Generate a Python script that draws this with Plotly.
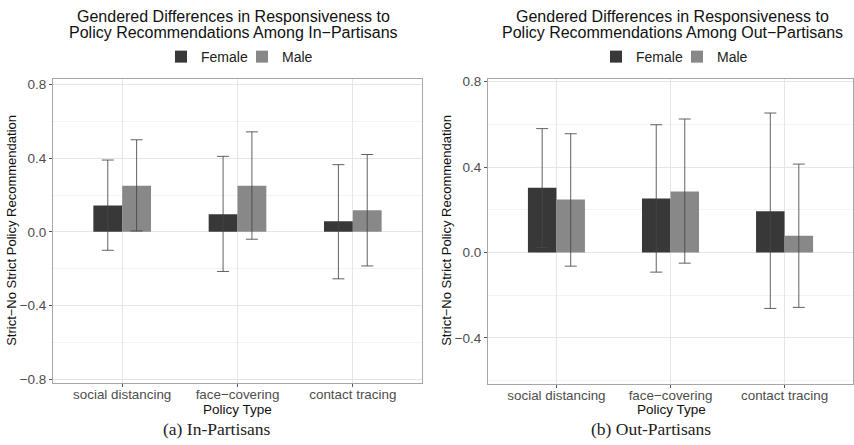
import plotly.graph_objects as go

categories = ["social distancing", "face\u2212covering", "contact tracing"]
genders = ["Female", "Male"]

in_female = [0.143, 0.095, 0.058]
in_female_hi = [0.39, 0.41, 0.365]
in_female_lo = [-0.10, -0.215, -0.255]
in_male = [0.25, 0.25, 0.117]
in_male_hi = [0.50, 0.543, 0.42]
in_male_lo = [0.005, -0.04, -0.185]

out_female = [0.303, 0.253, 0.193]
out_female_hi = [0.58, 0.598, 0.653]
out_female_lo = [0.023, -0.092, -0.262]
out_male = [0.248, 0.285, 0.078]
out_male_hi = [0.556, 0.625, 0.414]
out_male_lo = [-0.064, -0.05, -0.257]

y_ticks_left = [-0.8, -0.4, 0.0, 0.4, 0.8]
y_ticks_right = [-0.4, 0.0, 0.4, 0.8]

titles = [
    ("Gendered Differences in Responsiveness to", "Policy Recommendations Among In\u2212Partisans"),
    ("Gendered Differences in Responsiveness to", "Policy Recommendations Among Out\u2212Partisans"),
]
captions = ["(a) In-Partisans", "(b) Out-Partisans"]
y_title = "Strict\u2212No Strict Policy Recommendation"
x_title = "Policy Type"

colors = {"Female": "#383838", "Male": "#888888"}
err_color = "rgba(70,70,70,0.85)"
W, H = 854, 445


def err(vals, hi, lo):
    return dict(type="data", symmetric=False,
                array=[h - v for v, h in zip(vals, hi)],
                arrayminus=[v - l for v, l in zip(vals, lo)],
                color=err_color, thickness=1, width=6)


fig = go.Figure()
panels = [
    ("x", "y", "legend", [(in_female, in_female_hi, in_female_lo), (in_male, in_male_hi, in_male_lo)]),
    ("x2", "y2", "legend2", [(out_female, out_female_hi, out_female_lo), (out_male, out_male_hi, out_male_lo)]),
]
for xa, ya, lg, series in panels:
    for g, (vals, hi, lo) in zip(genders, series):
        fig.add_trace(go.Bar(
            x=categories, y=vals, name=g, xaxis=xa, yaxis=ya, legend=lg,
            offsetgroup=g, marker=dict(color=colors[g], line=dict(width=0)),
            error_y=err(vals, hi, lo), showlegend=True,
        ))

axis_common = dict(
    showline=True, mirror=True, linecolor="#a6a6a6", linewidth=1,
    ticks="outside", ticklen=3, tickcolor="#555555",
    tickfont=dict(family="Liberation Sans", size=13.5, color="#4d4d4d"),
    showgrid=True, gridcolor="#e6e6e6", gridwidth=1, zeroline=False,
)
x_common = dict(axis_common, tickfont=dict(family="Liberation Sans", size=13.4, color="#4d4d4d"),
                ticklabelstandoff=-4)

tick_txt = lambda vals: [("\u2212" if v < 0 else "") + f"{abs(v):.1f}" for v in vals]

legend_common = dict(orientation="h", xanchor="center", yanchor="middle", y=(H - 54) / H,
                     font=dict(size=14, color="#222222"), itemwidth=30,
                     entrywidth=36, entrywidthmode="pixels", bgcolor="rgba(0,0,0,0)")

fig.update_layout(
    width=W, height=H, margin=dict(l=0, r=0, t=0, b=0),
    paper_bgcolor="white", plot_bgcolor="white",
    barmode="group", bargap=0.5, bargroupgap=0,
    font=dict(family="Liberation Sans", color="#222222"),
    xaxis=dict(domain=[53 / W, 422 / W], anchor="y", range=[-0.6, 2.6], **x_common),
    yaxis=dict(domain=[(H - 386) / H, (H - 76) / H], anchor="x", range=[-0.821, 0.832],
               tickvals=y_ticks_left, ticktext=tick_txt(y_ticks_left),
               minor=dict(showgrid=True, gridcolor="#f3f3f3", dtick=0.2, tick0=0.2),
               **axis_common),
    xaxis2=dict(domain=[488 / W, 853 / W], anchor="y2", range=[-0.6, 2.6], **x_common),
    yaxis2=dict(domain=[(H - 387) / H, (H - 76) / H], anchor="x2", range=[-0.616, 0.814],
                tickvals=y_ticks_right, ticktext=tick_txt(y_ticks_right),
                minor=dict(showgrid=True, gridcolor="#f3f3f3", dtick=0.2, tick0=0.2),
                **axis_common),
    legend=dict(legend_common, x=242 / W),
    legend2=dict(legend_common, x=677 / W),
)

ann = []
for cx, (l1, l2) in zip([233, 672], titles):
    ann.append(dict(text=l1, x=cx / W, y=(H - 13) / H, xref="paper", yref="paper",
                    showarrow=False, xanchor="center", yanchor="middle",
                    font=dict(size=16, color="#111111")))
    ann.append(dict(text=l2, x=cx / W, y=(H - 29) / H, xref="paper", yref="paper",
                    showarrow=False, xanchor="center", yanchor="middle",
                    font=dict(size=16, color="#111111")))
for cx in [12, 447]:
    ann.append(dict(text=y_title, x=cx / W, y=(H - 231) / H, xref="paper", yref="paper",
                    showarrow=False, textangle=-90, xanchor="center", yanchor="middle",
                    font=dict(size=13, color="#111111")))
for cx in [238, 671]:
    ann.append(dict(text=x_title, x=cx / W, y=(H - 413) / H, xref="paper", yref="paper",
                    showarrow=False, xanchor="center", yanchor="middle",
                    font=dict(size=13.5, color="#111111")))
for cx, cap in zip([217, 651], captions):
    ann.append(dict(text=cap, x=cx / W, y=(H - 433) / H, xref="paper", yref="paper",
                    showarrow=False, xanchor="center", yanchor="middle",
                    font=dict(family="Liberation Serif", size=17.5, color="#222222")))
fig.update_layout(annotations=ann)

fig.write_html("out.html", config={"displayModeBar": False},
               post_script="document.body.style.margin='0';document.body.style.overflow='hidden';")
